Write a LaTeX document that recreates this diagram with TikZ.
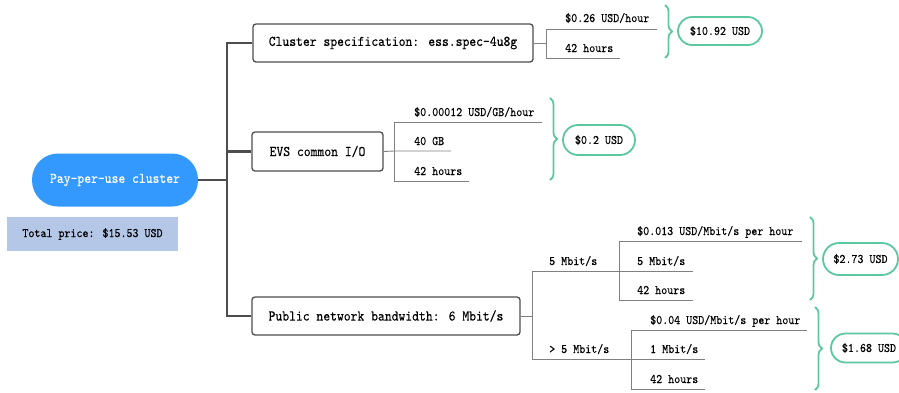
\documentclass[tikz,border=0pt]{standalone}
\usepackage{fontspec}
\usetikzlibrary{decorations.pathreplacing}
\newfontfamily\simfont[Extension=.otf, FakeStretch=0.88, FakeBold=0.25]{lmmono10-regular}
\definecolor{trunkc}{HTML}{4D4D4D}
\definecolor{leafc}{HTML}{808080}
\definecolor{greenc}{RGB}{92,200,160}
\definecolor{rootc}{HTML}{3399FF}
\definecolor{totc}{HTML}{B4C7E7}
\begin{document}
\begin{tikzpicture}[x=1pt,y=-1pt,
  trunk/.style={draw=trunkc, line width=2.8pt},
  bigtxt/.style={font=\fontsize{14.8}{16}\selectfont\simfont},
  smalltxt/.style={font=\fontsize{13}{15}\selectfont\simfont},
  box/.style={draw=trunkc, line width=1.3pt, rounded corners=3pt, fill=white, inner sep=0, bigtxt},
  leaf/.style={anchor=base west, inner sep=0, smalltxt},
  leafline/.style={draw=leafc, line width=0.9pt},
  bracec/.style={draw=greenc, line width=1.8pt, decorate, decoration={brace, amplitude=7pt}},
  pill/.style={draw=greenc, line width=1.8pt, fill=white, inner sep=0, smalltxt}
]
\useasboundingbox (0,0) rectangle (899,392);
\clip (0,0) rectangle (899,392);

% root and total
\node[fill=rootc, rounded corners=26pt, minimum width=166pt, minimum height=53pt, inner sep=0,
      text=white, bigtxt] (root) at (115,180) {Pay-per-use cluster};
\node[fill=totc, minimum width=171pt, minimum height=34pt, inner sep=0, smalltxt] (total) at (92.5,234) {Total price: \$15.53 USD};

% branch boxes
\node[box, minimum width=280pt, minimum height=38pt] (cl) at (393,43) {Cluster specification: ess.spec-4u8g};
\node[box, minimum width=131pt, minimum height=39pt] (evs) at (317.5,151.5) {EVS common I/O};
\node[box, minimum width=268pt, minimum height=38pt] (pub) at (386,316) {Public network bandwidth: 6 Mbit/s};

% trunk
\coordinate (tr) at (227,180);
\draw[trunk] (root.east) -- (tr);
\draw[trunk] (cl.west) -| (tr) |- (pub.west);
\draw[trunk] (evs.west) -- (evs.west -| tr);

% cluster leaves
\coordinate (c0) at (546,43);
\draw[leafline] (cl.east) -- (c0);
\draw[leafline] (657,29) -- (546,29) -- (546,58) -- (620,58);
\node[leaf] (c1) at (565,22) {\$0.26 USD/hour};
\node[leaf] (c2) at (565,52) {42 hours};
\draw[bracec] (665,5) -- (665,58);
\node[pill, rounded corners=14pt, minimum width=84pt, minimum height=28pt] (cp) at (720,31) {\$10.92 USD};

% evs leaves
\coordinate (e0) at (394,151);
\draw[leafline] (evs.east) -- (e0) -- (451,151);
\draw[leafline] (542,122) -- (394,122) -- (394,181) -- (469,181);
\node[leaf] (e1) at (414,116) {\$0.00012 USD/GB/hour};
\node[leaf] (e2) at (414,145) {40 GB};
\node[leaf] (e3) at (414,175) {42 hours};
\draw[bracec] (550,98) -- (550,180);
\node[pill, rounded corners=15pt, minimum width=72pt, minimum height=30pt] (ep) at (599,140) {\$0.2 USD};

% public leaves
\coordinate (p0) at (532,316);
\draw[leafline] (pub.east) -- (p0);
\draw[leafline] (693,271) -- (532,271) -- (532,359) -- (705,359);
\node[leaf] (pa) at (549,265) {5 Mbit/s};
\node[leaf] (pb) at (549,353) {> 5 Mbit/s};

\draw[leafline] (802,241) -- (619,241) -- (619,300) -- (693,300);
\node[leaf] (a1) at (637,235) {\$0.013 USD/Mbit/s per hour};
\node[leaf] (a2) at (637,265) {5 Mbit/s};
\node[leaf] (a3) at (637,294) {42 hours};
\draw[bracec] (810,217) -- (810,300);
\node[pill, rounded corners=16pt, minimum width=75pt, minimum height=32pt] (ap) at (860.5,259) {\$2.73 USD};

\draw[leafline] (807,330) -- (631,330) -- (631,389) -- (705,389);
\node[leaf] (b1) at (650,324) {\$0.04 USD/Mbit/s per hour};
\node[leaf] (b2) at (650,353) {1 Mbit/s};
\node[leaf] (b3) at (650,383) {42 hours};
\draw[bracec] (815,307) -- (815,390);
\node[pill, rounded corners=14.5pt, minimum width=76pt, minimum height=29pt] (bp) at (869,348) {\$1.68 USD};
\end{tikzpicture}
\end{document}
